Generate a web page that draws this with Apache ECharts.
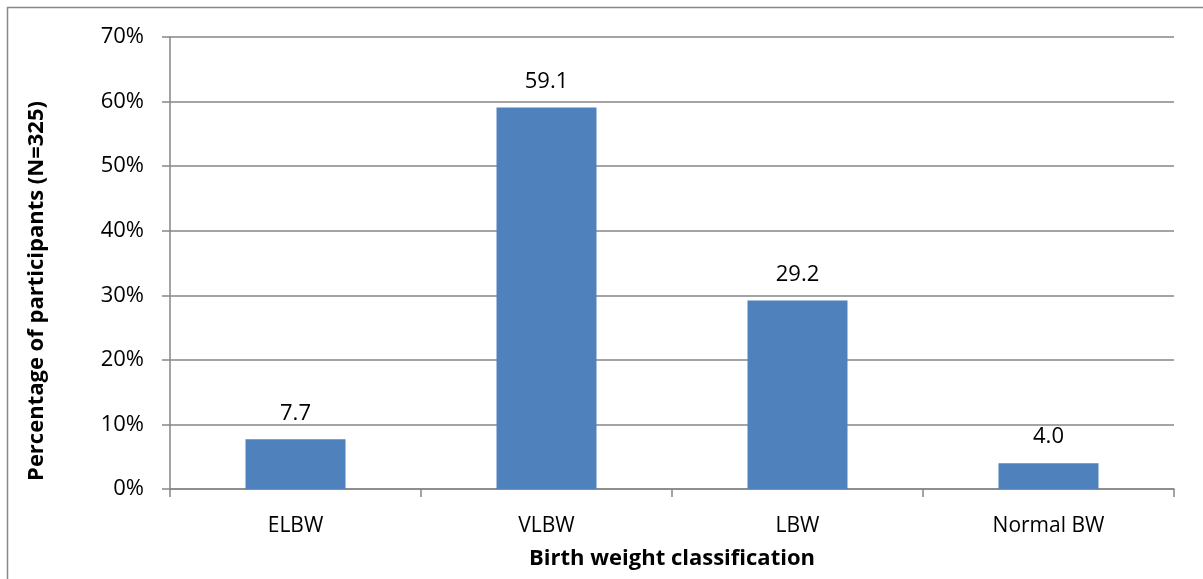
<!DOCTYPE html>
<html><head><meta charset="utf-8">
<script src="https://cdn.jsdelivr.net/npm/echarts@6/dist/echarts.min.js"></script>
<style>html,body{margin:0;padding:0;background:#fff}#c{width:1203px;height:579px}</style>
</head><body><div id="c"></div>
<script>
const categories = ['ELBW', 'VLBW', 'LBW', 'Normal BW'];
const values = [7.7, 59.1, 29.2, 4.0];
const yTicks = [0, 10, 20, 30, 40, 50, 60, 70];
const xTitle = 'Birth weight classification';
const yTitle = 'Percentage of participants (N=325)';

const font = "'Open Sans', 'Noto Sans', sans-serif";
const chart = echarts.init(document.getElementById('c'));
chart.setOption({
  animation: false,
  backgroundColor: '#fff',
  graphic: [
    {type: 'rect', shape: {x: 7.5, y: 7.5, width: 1300, height: 700}, style: {fill: 'none', stroke: '#888', lineWidth: 1.5}},
    {type: 'text', x: 37, y: 291, rotation: Math.PI / 2,
     style: {text: yTitle, fontFamily: font, fontSize: 22, fontWeight: 'bold', fill: '#000', align: 'center', verticalAlign: 'middle'}}
  ],
  grid: {left: 170, right: 29, top: 37, bottom: 90, containLabel: false, outerBoundsMode: 'none'},
  xAxis: {
    type: 'category', data: categories,
    name: xTitle, nameLocation: 'middle', nameGap: 59,
    nameTextStyle: {fontFamily: font, fontSize: 22, fontWeight: 'bold', color: '#000'},
    axisLine: {lineStyle: {color: '#868686', width: 1.5}},
    axisTick: {show: true, length: 8, lineStyle: {color: '#868686', width: 1.5}, alignWithLabel: false},
    axisLabel: {fontFamily: font, fontSize: 21, color: '#000', margin: 27}
  },
  yAxis: {
    type: 'value', min: yTicks[0], max: yTicks[yTicks.length - 1], interval: 10,
    axisLine: {show: true, lineStyle: {color: '#868686', width: 1.5}},
    axisTick: {show: true, length: 8, lineStyle: {color: '#868686', width: 1.5}},
    axisLabel: {fontFamily: font, fontSize: 22, color: '#000', margin: 26, formatter: v => v + '%'},
    splitLine: {lineStyle: {color: '#868686', width: 1.5}}
  },
  series: [{
    type: 'bar', data: values, barWidth: 100,
    itemStyle: {color: '#4F81BD'},
    label: {show: true, position: 'top', distance: 15, fontFamily: font, fontSize: 22, color: '#000',
      formatter: p => p.value.toFixed(1)}
  }]
});
</script></body></html>
